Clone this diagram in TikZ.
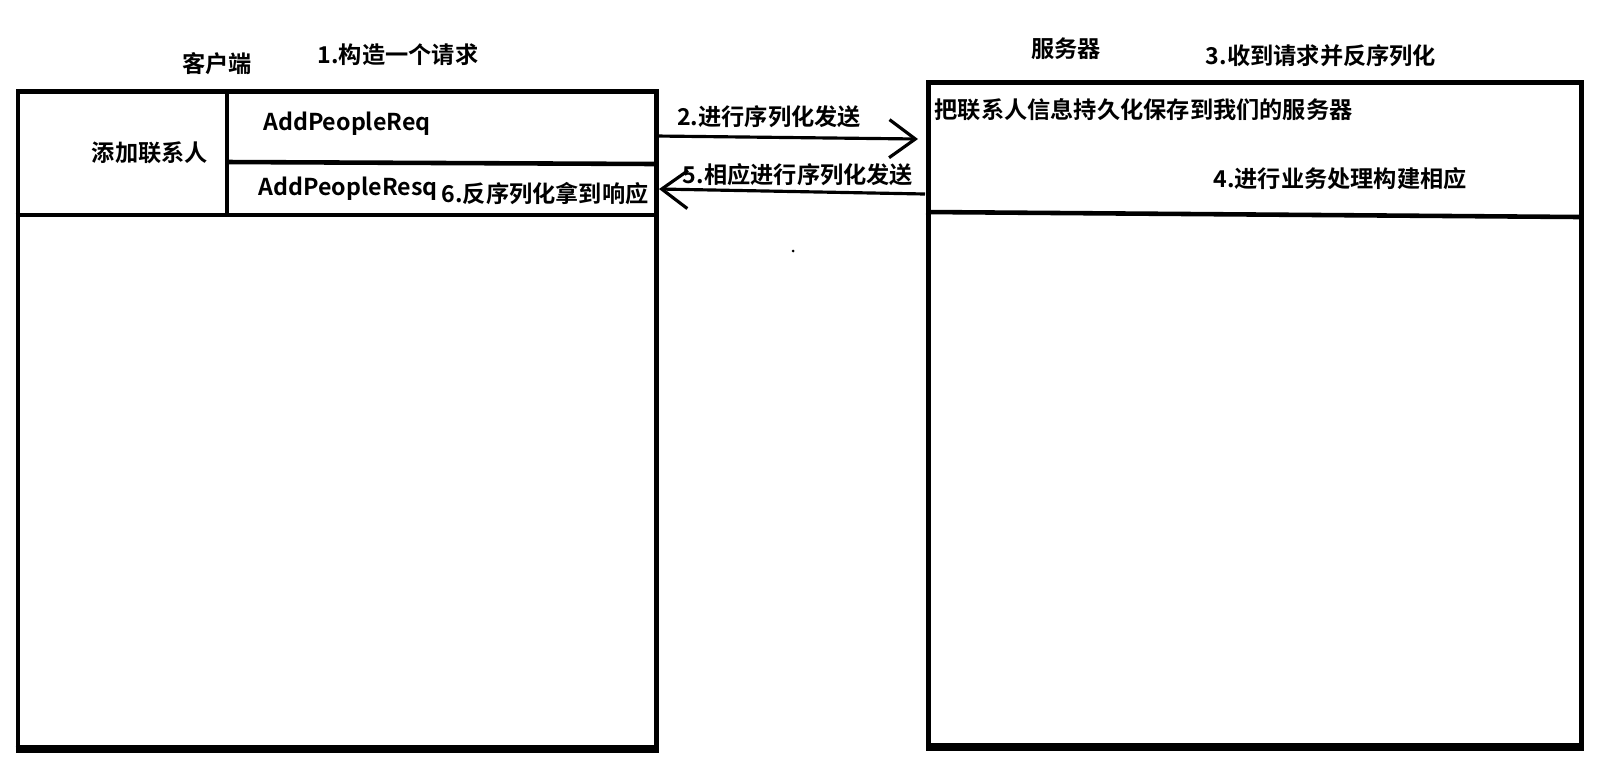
\documentclass[tikz,border=0pt]{standalone}
\usepackage{fontspec}
\setmainfont{Noto Sans CJK SC}[BoldFont={* Bold}]
\usetikzlibrary{positioning,arrows.meta}

\begin{document}
\begin{tikzpicture}[x=0.01cm,y=-0.01cm,font=\fontsize{6.6}{8}\selectfont\bfseries,
  panel/.style={draw,line width=1.3pt,anchor=north west,inner sep=0pt},
  rule/.style={line width=1.3pt},
  lbl/.style={inner sep=0pt},
  arr/.style={-{Straight Barb[length=2.6mm,width=3.8mm]},line width=0.9pt}]
  \useasboundingbox (0,0) rectangle (1618,772);
  % client side
  \node[panel,minimum width=6.385cm,minimum height=6.56cm] (client) at (15.5,89) {};
  \draw[line width=2pt] (client.south west) -- (client.south east);
  \draw[rule] (227,89) -- (227,215);
  \draw[rule] (227,162) -- (654,164);
  \draw[rule] (15.5,215) -- (654,215);
  \node[lbl] (clientname) at (217,64) {客户端};
  \node[lbl] (step1) at (398,55) {1.构造一个请求};
  \node[lbl] (addcontact) at (150,153) {添加联系人};
  \node[lbl] (req) at (347,124) {AddPeopleReq};
  \node[lbl,anchor=west] (resq) at (258,189) {AddPeopleResq};
  \node[lbl,anchor=west] (step6) at (441,194) {6.反序列化拿到响应};
  % server side
  \node[panel,minimum width=6.53cm,minimum height=6.63cm] (server) at (926,80) {};
  \draw[line width=2pt] (server.south west) -- (server.south east);
  \draw[rule] (926,212) -- (1579,217);
  \node[lbl] (servername) at (1066,49) {服务器};
  \node[lbl] (step3) at (1321,56) {3.收到请求并反序列化};
  \node[lbl,anchor=west] (store) at (934,110) {把联系人信息持久化保存到我们的服务器};
  \node[lbl] (step4) at (1340,179) {4.进行业务处理构建相应};
  % messages
  \coordinate (reqout) at (656,136);
  \coordinate (reqin) at (918,139);
  \draw[arr] (reqout) -- (reqin);
  \node[lbl] (step2) at (769,117) {2.进行序列化发送};
  \coordinate (respout) at (925,194);
  \coordinate (respin) at (659,189);
  \draw[arr] (respout) -- (respin);
  \node[lbl] (step5) at (798,175) {5.相应进行序列化发送};
  \fill (793,251) circle (1.5);
\end{tikzpicture}
\end{document}
